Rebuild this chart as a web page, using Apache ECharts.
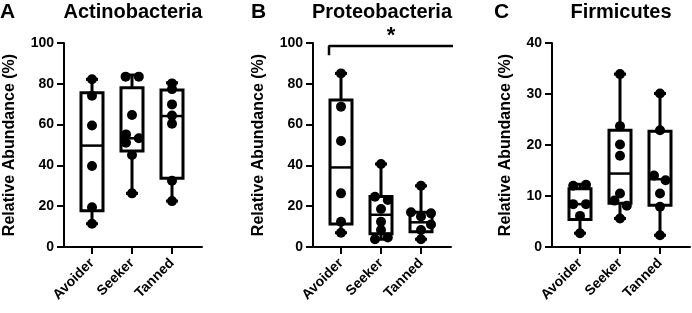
<!DOCTYPE html>
<html>
<head>
<meta charset="utf-8">
<script src="https://cdn.jsdelivr.net/npm/echarts@6/dist/echarts.min.js"></script>
<style>
html, body { margin: 0; padding: 0; background: #fff; }
#main { width: 692px; height: 313px; }
</style>
</head>
<body>
<div id="main"></div>
<script>
var groups = ['Avoider', 'Seeker', 'Tanned'];
var panelTitles = ['Actinobacteria', 'Proteobacteria', 'Firmicutes'];
var panelLetters = ['A', 'B', 'C'];
var yMax = [100, 100, 40];
var yStep = [20, 20, 10];

// box stats per group: [min, Q1, median, Q3, max]
var actinoBox = [[11.4, 17.8, 49.7, 75.6, 82.2], [26.3, 47.1, 53.3, 78.1, 84.3], [22.5, 33.7, 64.2, 77.0, 80.5]];
var proteoBox = [[7.0, 11.3, 39.0, 72.0, 85.1], [3.8, 6.5, 15.8, 24.7, 40.7], [3.8, 7.5, 12.1, 17.0, 30.0]];
var firmiBox = [[2.7, 5.4, 8.4, 11.4, 12.3], [5.6, 8.6, 14.4, 22.9, 33.9], [2.3, 8.2, 13.3, 22.7, 30.1]];

// individual samples per group, and their horizontal jitter (in category units)
var actinoVals = [[82.2, 74.2, 59.6, 39.7, 19.5, 11.4],
                  [83.5, 83.5, 64.7, 55.2, 53.3, 51.1, 45.1, 26.3],
                  [80.2, 77.4, 69.9, 64.4, 60.4, 32.5, 22.5]];
var actinoJit = [[0, 0, 0, 0, 0, 0],
                 [-0.16, 0.17, 0, -0.15, 0.17, -0.15, 0, 0],
                 [0, 0, 0, 0, 0, 0, 0]];
var proteoVals = [[85.1, 68.8, 52.0, 26.3, 12.4, 7.0],
                  [40.7, 24.6, 23.1, 18.6, 12.4, 8.3, 4.7, 3.8],
                  [30.0, 17.0, 16.5, 15.0, 11.0, 8.3, 3.8]];
var proteoJit = [[0, 0, 0, 0, 0, 0],
                 [0, -0.15, 0.17, 0, 0, 0, 0.17, -0.15],
                 [0, -0.25, 0.25, 0, 0.25, 0, 0]];
var firmiVals = [[12.0, 12.2, 8.4, 8.4, 6.1, 2.7],
                 [33.9, 23.7, 20.1, 17.9, 10.5, 9.1, 8.1, 5.6],
                 [30.1, 22.9, 14.0, 13.1, 10.5, 7.9, 2.3]];
var firmiJit = [[-0.17, 0.15, -0.17, 0.15, 0, 0],
                [0, 0, 0, 0, 0, -0.14, 0.17, 0],
                [0, 0, -0.15, 0.14, 0, 0, 0]];

// significance bracket in panel B: [x, value]
var bracketPts = [[-0.3, 94], [-0.3, 98.5], [2.93, 98.5], [2.93, 94]];

var FONT = 'Liberation Sans';
var boxes = [actinoBox, proteoBox, firmiBox];
var vals = [actinoVals, proteoVals, firmiVals];
var jits = [actinoJit, proteoJit, firmiJit];
var lefts = [64, 313, 552];

function renderBox(params, api) {
    var x = api.value(0);
    var lo = api.coord([x, api.value(1)]);
    var q1 = api.coord([x, api.value(2)]);
    var md = api.coord([x, api.value(3)]);
    var q3 = api.coord([x, api.value(4)]);
    var hi = api.coord([x, api.value(5)]);
    var hw = 11, cw = 6;
    var st = { stroke: '#000', lineWidth: 3 };
    return {
        type: 'group',
        children: [
            { type: 'line', shape: { x1: lo[0], y1: lo[1], x2: q1[0], y2: q1[1] }, style: st },
            { type: 'line', shape: { x1: q3[0], y1: q3[1], x2: hi[0], y2: hi[1] }, style: st },
            { type: 'line', shape: { x1: lo[0] - cw, y1: lo[1], x2: lo[0] + cw, y2: lo[1] }, style: st },
            { type: 'line', shape: { x1: hi[0] - cw, y1: hi[1], x2: hi[0] + cw, y2: hi[1] }, style: st },
            { type: 'rect', shape: { x: q3[0] - hw, y: q3[1], width: hw * 2, height: q1[1] - q3[1] },
              style: { stroke: '#000', lineWidth: 3, fill: '#fff' } },
            { type: 'line', shape: { x1: md[0] - hw, y1: md[1], x2: md[0] + hw, y2: md[1] },
              style: { stroke: '#000', lineWidth: 2.5 } }
        ]
    };
}

var grid = [], xAxis = [], yAxis = [], series = [], graphic = [];
for (var p = 0; p < 3; p++) {
    grid.push({ left: lefts[p], top: 43, width: 138, height: 204 });
    xAxis.push({
        gridIndex: p, type: 'value', min: -0.7, max: 2.75,
        splitLine: { show: false },
        axisLine: { lineStyle: { color: '#000', width: 2 } },
        axisTick: { customValues: [0, 1, 2], length: 7, lineStyle: { color: '#000', width: 2 } },
        axisLabel: {
            customValues: [0, 1, 2], rotate: 45, margin: 14,
            formatter: function (v) { return groups[Math.round(v)]; },
            color: '#000', fontWeight: 'bold', fontSize: 14, fontFamily: FONT
        }
    });
    yAxis.push({
        gridIndex: p, type: 'value', min: 0, max: yMax[p], interval: yStep[p],
        name: 'Relative Abundance (%)', nameLocation: 'middle', nameGap: p === 2 ? 38 : 46,
        nameTextStyle: { color: '#000', fontWeight: 'bold', fontSize: 16, fontFamily: FONT },
        splitLine: { show: false },
        axisLine: { show: true, onZero: false, lineStyle: { color: '#000', width: 2 } },
        axisTick: { show: true, length: 7, lineStyle: { color: '#000', width: 2 } },
        axisLabel: { color: '#000', fontWeight: 'bold', fontSize: 14, fontFamily: FONT, margin: 10 }
    });

    var boxData = [], dots = [];
    for (var g = 0; g < 3; g++) {
        boxData.push([g].concat(boxes[p][g]));
        for (var k = 0; k < vals[p][g].length; k++) {
            dots.push([g + jits[p][g][k], vals[p][g][k]]);
        }
    }
    series.push({
        type: 'custom', xAxisIndex: p, yAxisIndex: p, renderItem: renderBox,
        data: boxData, z: 2, silent: true
    });
    series.push({
        type: 'scatter', xAxisIndex: p, yAxisIndex: p, data: dots,
        symbolSize: 10, itemStyle: { color: '#000', opacity: 1 }, z: 3, silent: true
    });

    graphic.push({
        type: 'text', x: lefts[p] + 69, y: 12,
        style: { text: panelTitles[p], font: 'bold 20px ' + FONT, fill: '#000', textAlign: 'center', textVerticalAlign: 'middle' }
    });
}

graphic.push({ type: 'text', x: 0, y: 2, style: { text: panelLetters[0], font: 'bold 21px ' + FONT, fill: '#000' } });
graphic.push({ type: 'text', x: 251, y: 2, style: { text: panelLetters[1], font: 'bold 21px ' + FONT, fill: '#000' } });
graphic.push({ type: 'text', x: 494, y: 2, style: { text: panelLetters[2], font: 'bold 21px ' + FONT, fill: '#000' } });
graphic.push({ type: 'text', x: 391, y: 36, style: { text: '*', font: 'bold 22px ' + FONT, fill: '#000', textAlign: 'center', textVerticalAlign: 'middle' } });

series.push({
    type: 'line', xAxisIndex: 1, yAxisIndex: 1, data: bracketPts,
    symbol: 'none', clip: false, silent: true,
    lineStyle: { color: '#000', width: 2.5 }
});

var myChart = echarts.init(document.getElementById('main'));
myChart.setOption({
    animation: false,
    backgroundColor: '#fff',
    grid: grid,
    xAxis: xAxis,
    yAxis: yAxis,
    series: series,
    graphic: graphic
});
</script>
</body>
</html>
